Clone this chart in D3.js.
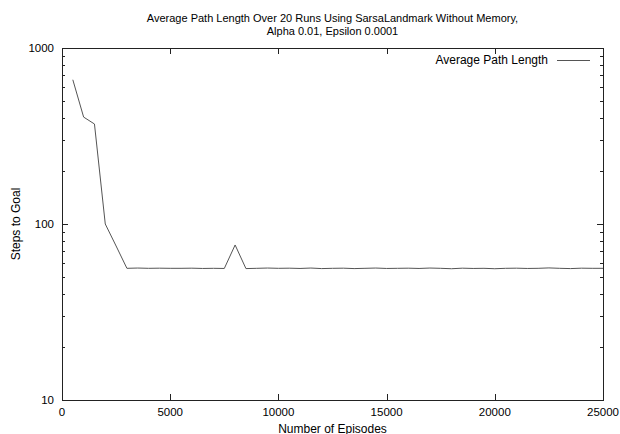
<!DOCTYPE html>
<html>
<head>
<meta charset="utf-8">
<script src="https://cdn.jsdelivr.net/npm/d3@7"></script>
<style>
body { margin: 0; background: white; }
text { font-family: "Liberation Sans", Arial, sans-serif; }
</style>
</head>
<body>
<svg width="620" height="434"></svg>
<script>
var width = 620, height = 434;

var titleLines = ["Average Path Length Over 20 Runs Using SarsaLandmark Without Memory,",
                  "Alpha 0.01, Epsilon 0.0001"];
var episodes = [500, 1000, 1500, 2000, 2500, 3000, 3500, 4000, 4500, 5000,
                5500, 6000, 6500, 7000, 7500, 8000, 8500, 9000, 9500, 10000,
                10500, 11000, 11500, 12000, 12500, 13000, 13500, 14000, 14500, 15000,
                15500, 16000, 16500, 17000, 17500, 18000, 18500, 19000, 19500, 20000,
                20500, 21000, 21500, 22000, 22500, 23000, 23500, 24000, 24500, 25000];
var pathLength = [660, 405, 370, 100, 75, 56, 56.2, 56, 56.1, 56,
                  56, 56.1, 55.9, 56, 55.9, 76, 55.8, 56, 56.2, 56,
                  56.1, 55.9, 56.2, 55.8, 56, 56.1, 55.8, 56, 56.2, 55.9,
                  56, 56.1, 55.9, 56.2, 56, 55.7, 56.1, 55.9, 56, 55.7,
                  56, 56.1, 55.9, 56, 56.3, 56, 55.8, 56.1, 56, 56];
var xTicks = [0, 5000, 10000, 15000, 20000, 25000];
var yTicks = [10, 100, 1000];

var svg = d3.select('svg');
svg.append('rect').attr('width', width).attr('height', height).attr('fill', 'white');

var pLeft = 62, pRight = 603, pTop = 48, pBottom = 400;

var x = d3.scaleLinear().domain([0, 25000]).range([pLeft, pRight]);
var y = d3.scaleLog().domain([10, 1000]).range([pBottom, pTop]);

// title
svg.selectAll('.title')
  .data(titleLines)
  .enter().append('text')
  .attr('x', (pLeft + pRight) / 2)
  .attr('y', function(d, i) { return 22 + i * 13; })
  .attr('text-anchor', 'middle')
  .style('font-size', '11px')
  .text(function(d) { return d; });

// minor ticks for log axis
var minor = [];
[10, 100].forEach(function(b) { for (var k = 2; k <= 9; k++) minor.push(b * k); });

var g = svg.append('g');

// frame
g.append('rect')
  .attr('x', pLeft + 0.5).attr('y', pTop + 0.5)
  .attr('width', pRight - pLeft).attr('height', pBottom - pTop)
  .attr('fill', 'none').attr('stroke', '#222').attr('stroke-width', 1);

// x ticks top and bottom
g.selectAll('.xt')
  .data(xTicks)
  .enter().append('path')
  .attr('d', function(d) {
    var px = Math.round(x(d)) + 0.5;
    return 'M' + px + ',' + pBottom + 'V' + (pBottom - 6) + 'M' + px + ',' + pTop + 'V' + (pTop + 6);
  })
  .attr('stroke', '#222');

g.selectAll('.xl')
  .data(xTicks)
  .enter().append('text')
  .attr('x', function(d) { return x(d); })
  .attr('y', 416)
  .attr('text-anchor', 'middle')
  .style('font-size', '11.5px')
  .text(function(d) { return d; });

// y major ticks
g.selectAll('.yt')
  .data(yTicks)
  .enter().append('path')
  .attr('d', function(d) {
    var py = Math.round(y(d)) + 0.5;
    return 'M' + pLeft + ',' + py + 'H' + (pLeft + 6) + 'M' + pRight + ',' + py + 'H' + (pRight - 6);
  })
  .attr('stroke', '#222');

g.selectAll('.ym')
  .data(minor)
  .enter().append('path')
  .attr('d', function(d) {
    var py = Math.round(y(d)) + 0.5;
    return 'M' + pLeft + ',' + py + 'H' + (pLeft + 3) + 'M' + pRight + ',' + py + 'H' + (pRight - 3);
  })
  .attr('stroke', '#222');

g.selectAll('.yl')
  .data(yTicks)
  .enter().append('text')
  .attr('x', 54)
  .attr('y', function(d) { return y(d) + 4; })
  .attr('text-anchor', 'end')
  .style('font-size', '11.5px')
  .text(function(d) { return d; });

// axis labels
svg.append('text')
  .attr('x', (pLeft + pRight) / 2)
  .attr('y', 433)
  .attr('text-anchor', 'middle')
  .style('font-size', '12px')
  .text('Number of Episodes');

svg.append('text')
  .attr('transform', 'translate(20,' + ((pTop + pBottom) / 2) + ')rotate(-90)')
  .attr('text-anchor', 'middle')
  .style('font-size', '12px')
  .text('Steps to Goal');

// data line
var line = d3.line()
  .x(function(d, i) { return x(episodes[i]); })
  .y(function(d) { return y(d); });

g.append('path')
  .datum(pathLength)
  .attr('d', line)
  .attr('fill', 'none')
  .attr('stroke', '#555')
  .attr('stroke-width', 1);

// legend
svg.append('text')
  .attr('x', 548)
  .attr('y', 64)
  .attr('text-anchor', 'end')
  .style('font-size', '12px')
  .text('Average Path Length');

svg.append('line')
  .attr('x1', 557).attr('x2', 590)
  .attr('y1', 60.5).attr('y2', 60.5)
  .attr('stroke', '#555');
</script>
</body>
</html>
